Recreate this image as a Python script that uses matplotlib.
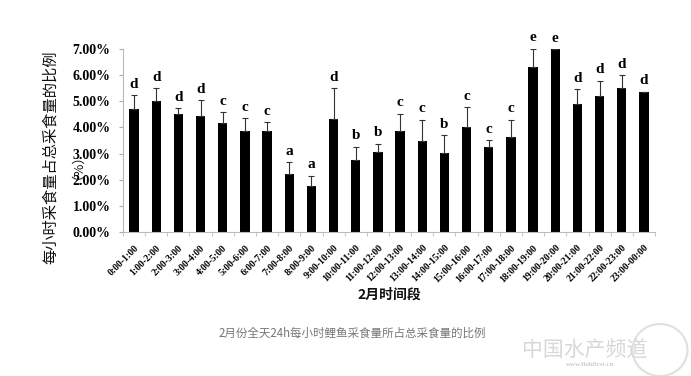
import matplotlib
matplotlib.use("Agg")
import matplotlib.pyplot as plt
import numpy as np
from matplotlib.ticker import FuncFormatter, FixedLocator
from matplotlib.patches import Ellipse

categories = ["0:00-1:00", "1:00-2:00", "2:00-3:00", "3:00-4:00", "4:00-5:00", "5:00-6:00",
              "6:00-7:00", "7:00-8:00", "8:00-9:00", "9:00-10:00", "10:00-11:00", "11:00-12:00",
              "12:00-13:00", "13:00-14:00", "14:00-15:00", "15:00-16:00", "16:00-17:00", "17:00-18:00",
              "18:00-19:00", "19:00-20:00", "20:00-21:00", "21:00-22:00", "22:00-23:00", "23:00-00:00"]
values = [4.72, 5.00, 4.53, 4.45, 4.17, 3.85, 3.85, 2.20, 1.77, 4.31, 2.75, 3.07,
          3.88, 3.48, 3.02, 4.02, 3.25, 3.65, 6.32, 7.00, 4.90, 5.22, 5.50, 5.36]
err_top = [5.23, 5.49, 4.73, 5.04, 4.58, 4.35, 4.20, 2.66, 2.16, 5.49, 3.26, 3.38,
           4.53, 4.29, 3.70, 4.77, 3.52, 4.29, 7.01, 7.00, 5.46, 5.78, 5.99, 5.36]
letters = ["d", "d", "d", "d", "c", "c", "c", "a", "a", "d", "b", "b",
           "c", "c", "b", "c", "c", "c", "e", "e", "d", "d", "d", "d"]
yticks = [0, 1, 2, 3, 4, 5, 6, 7]

W, H = 691, 376
fig = plt.figure(figsize=(W / 100, H / 100), dpi=100)
ax = fig.add_axes([123 / W, 1 - 232 / H, (655 - 123) / W, (232 - 49) / H])

x = np.arange(len(categories))
vals = np.array(values)
errs = np.array(err_top) - vals
ax.bar(x, vals, width=0.42, color="black", zorder=2)
ax.errorbar(x, vals, yerr=[np.zeros_like(errs), errs], fmt="none", ecolor="#333333",
            elinewidth=0.8, capsize=2.5, capthick=0.8, zorder=3)

serif = "Liberation Serif"
for xi, top, lab in zip(x, err_top, letters):
    ax.text(xi, top + 0.17, lab, ha="center", va="bottom", fontsize=11,
            fontweight="bold", family=serif)

ax.set_xlim(-0.5, len(categories) - 0.5)
ax.set_ylim(0, 7)
ax.set_yticks(yticks)
ax.yaxis.set_major_formatter(FuncFormatter(lambda v, p: f"{v:.2f}%"))
for t in ax.get_yticklabels():
    t.set_family(serif)
    t.set_fontweight("bold")
    t.set_fontsize(10)
ax.tick_params(axis="y", length=3, color="#aaaaaa", pad=6)

ax.set_xticks(x)
ax.set_xticklabels(categories, rotation=45, ha="right", va="top",
                   rotation_mode="anchor", family=serif, fontweight="bold", fontsize=7)
ax.tick_params(axis="x", which="major", length=0, pad=8)
ax.xaxis.set_minor_locator(FixedLocator(np.arange(-0.5, len(categories), 1.0)))
ax.tick_params(axis="x", which="minor", length=3, color="#bbbbbb")

for s in ["top", "right"]:
    ax.spines[s].set_visible(False)
ax.spines["left"].set_color("#bbbbbb")
ax.spines["bottom"].set_color("#bbbbbb")
ax.spines["left"].set_linewidth(0.8)
ax.spines["bottom"].set_linewidth(0.8)

cjk = ["Noto Sans CJK SC", "DejaVu Sans"]
fig.text(51 / W, 1 - 157 / H, "每小时采食量占总采食量的比例", rotation=90, ha="center", va="center",
         fontsize=11, family=cjk, color="#111111")
fig.text(71 / W, 1 - 160 / H, "（%）", rotation=90, ha="center", va="center",
         fontsize=9.5, family=cjk, color="#111111")
fig.text(389 / W, 1 - 295 / H, "2月时间段", ha="center", va="center", fontsize=10,
         fontweight="bold", family=cjk, color="#111111")
fig.text(352 / W, 1 - 333 / H, "2月份全天24h每小时鲤鱼采食量所占总采食量的比例", ha="center",
         va="center", fontsize=8.3, family=cjk, color="#777777")

# watermark
fig.text(585 / W, 1 - 351 / H, "中国水产频道", ha="center", va="center", fontsize=15,
         family=cjk, color="#d8d8d8", style="italic")
fig.text(590 / W, 1 - 364 / H, "www.fishfirst.cn", ha="center", va="center", fontsize=5,
         family=serif, color="#cccccc", fontweight="bold")
fig.patches.append(Ellipse((660 / W, 1 - 350 / H), 55 / W, 52 / H, transform=fig.transFigure,
                           fill=False, edgecolor="#e0e0e0", lw=1.5))

fig.savefig("out.png", dpi=100)
